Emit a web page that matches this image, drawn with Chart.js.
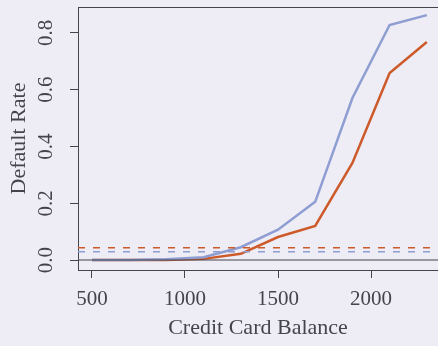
<!DOCTYPE html>
<html>
<head>
<meta charset="utf-8">
<script src="https://cdn.jsdelivr.net/npm/chart.js@4"></script>
<style>
  html, body { margin: 0; padding: 0; background: #eeedf5; overflow: hidden; }
  #wrap { width: 438px; height: 346px; position: relative; }
</style>
</head>
<body>
<div id="wrap"><canvas id="rates" width="438" height="346"></canvas></div>
<script>
// balance bins and default rate per bin
const balance = [500, 700, 900, 1100, 1300, 1500, 1700, 1900, 2100, 2300];
const nonStudentRate = [0, 0, 0.003, 0.01, 0.045, 0.107, 0.205, 0.571, 0.828, 0.863];
const studentRate = [0, 0, 0, 0.004, 0.022, 0.081, 0.12, 0.342, 0.659, 0.768];
// overall default rate for each group
const studentOverall = 0.0431;
const nonStudentOverall = 0.0292;
const xTicks = [500, 1000, 1500, 2000];
const yTicks = [0.0, 0.2, 0.4, 0.6, 0.8];

const X_MIN = 425, X_MAX = 2360;
const Y_MIN = -0.0352, Y_MAX = 0.8916;

const BLUE = '#8e9dd2';
const ORANGE = '#cd5a2a';
const INK = '#44444c';
const SERIF = '"Liberation Serif", "Times New Roman", serif';

const toPts = (xs, ys) => xs.map((x, i) => ({ x: x, y: ys[i] }));
const flat = v => [{ x: X_MIN, y: v }, { x: X_MAX, y: v }];

// top edge of the box plus the rotated y tick labels
const boxAndLabels = {
  id: 'boxAndLabels',
  afterDraw(chart) {
    const { ctx, chartArea } = chart;
    const ys = chart.scales.y;
    ctx.save();
    ctx.strokeStyle = INK;
    ctx.lineWidth = 1;
    ctx.beginPath();
    ctx.moveTo(chartArea.left, chartArea.top + 0.5);
    ctx.lineTo(chartArea.right, chartArea.top + 0.5);
    ctx.stroke();

    ctx.fillStyle = INK;
    ctx.font = '21px ' + SERIF;
    ctx.textAlign = 'center';
    ctx.textBaseline = 'middle';
    yTicks.forEach(v => {
      const py = ys.getPixelForValue(v);
      ctx.save();
      ctx.translate(46, py);
      ctx.rotate(-Math.PI / 2);
      ctx.fillText(v.toFixed(1), 0, 0);
      ctx.restore();
    });
    ctx.restore();
  }
};

new Chart(document.getElementById('rates'), {
  type: 'line',
  data: {
    datasets: [
      { data: flat(0), borderColor: INK, borderWidth: 1.2 },
      { data: flat(studentOverall), borderColor: ORANGE, borderWidth: 1.6, borderDash: [7, 8] },
      { data: flat(nonStudentOverall), borderColor: BLUE, borderWidth: 1.6, borderDash: [7, 8] },
      { data: toPts(balance, nonStudentRate), borderColor: BLUE, borderWidth: 2.5 },
      { data: toPts(balance, studentRate), borderColor: ORANGE, borderWidth: 2.5 }
    ]
  },
  options: {
    responsive: false,
    animation: false,
    events: [],
    layout: { padding: { top: 7, left: 0, right: 0, bottom: 0 } },
    elements: { point: { radius: 0 }, line: { tension: 0 } },
    plugins: { legend: { display: false }, tooltip: { enabled: false } },
    scales: {
      x: {
        type: 'linear',
        min: X_MIN,
        max: X_MAX,
        afterBuildTicks: s => { s.ticks = xTicks.map(v => ({ value: v })); },
        afterFit: s => { s.height = 76; s.paddingLeft = 0; s.paddingRight = 0; },
        grid: { drawOnChartArea: false, tickLength: 8, color: INK },
        border: { color: INK, width: 1 },
        ticks: { color: INK, font: { family: SERIF, size: 21 }, padding: 9, maxRotation: 0,
                 callback: v => String(v) },
        title: { display: true, text: 'Credit Card Balance', color: INK,
                 font: { family: SERIF, size: 22 }, padding: { top: 0, bottom: 5 } }
      },
      y: {
        min: Y_MIN,
        max: Y_MAX,
        afterBuildTicks: s => { s.ticks = yTicks.map(v => ({ value: v })); },
        afterFit: s => { s.width = 78; s.paddingTop = 0; s.paddingBottom = 0; },
        grid: { drawOnChartArea: false, tickLength: 8, color: INK },
        border: { color: INK, width: 1 },
        // labels are drawn rotated by the plugin above
        ticks: { color: 'rgba(0,0,0,0)', font: { family: SERIF, size: 21 } },
        title: { display: true, text: 'Default Rate', color: INK,
                 font: { family: SERIF, size: 22 }, padding: { top: 6, bottom: 0 } }
      }
    }
  },
  plugins: [boxAndLabels]
});
</script>
</body>
</html>
